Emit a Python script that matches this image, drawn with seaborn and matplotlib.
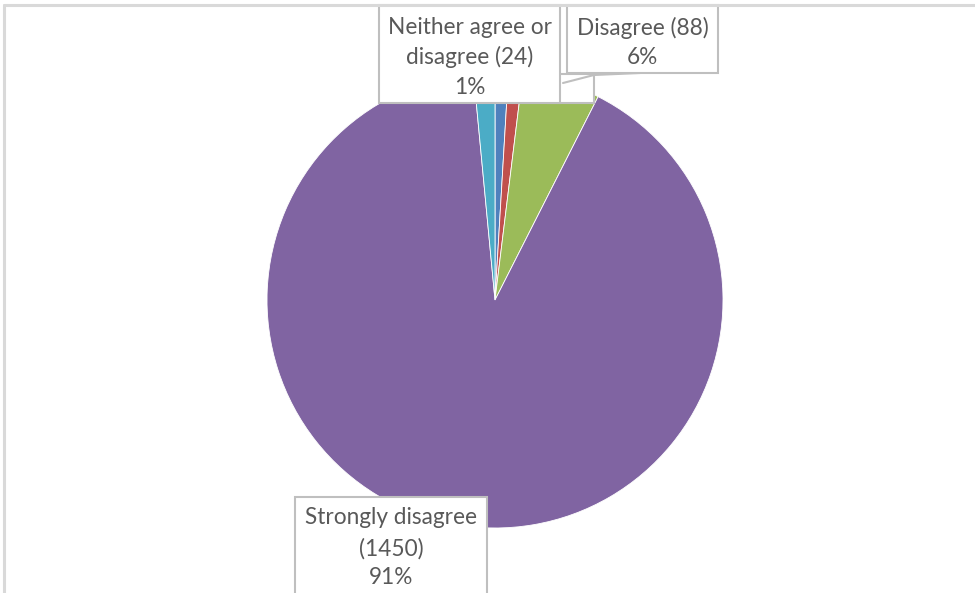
import matplotlib
matplotlib.use("Agg")
import matplotlib.pyplot as plt
from matplotlib.patches import Rectangle
import seaborn as sns

# dados da pizza (ordem do Excel, sentido horário a partir do topo)
categorias = ["Strongly agree", "Agree", "Disagree", "Strongly disagree", "Neither agree or disagree"]
valores = [15, 16, 88, 1450, 24]
cores = ["#4F81BD", "#C0504D", "#9BBB59", "#8064A2", "#4BACC6"]

# rótulos visíveis
rotulo_neither = ["Neither agree or", "disagree (24)", "1%"]
rotulo_disagree = ["Disagree (88)", "6%"]
rotulo_strongly = ["Strongly disagree", "(1450)", "91%"]

W, H = 975, 593

sns.set_theme(style="white")
plt.rcParams["font.family"] = ["Lato", "DejaVu Sans"]

fig = plt.figure(figsize=(W / 100, H / 100), dpi=100)
ax = fig.add_axes([0, 0, 1, 1])


def py(y):
    # coordenada em pixels (de cima) -> dados
    return H - y


ax.pie(valores, colors=cores, startangle=90, counterclock=False,
       center=(495, py(300)), radius=228, frame=True,
       wedgeprops=dict(edgecolor="white", linewidth=0.6))
ax.set_xlim(0, W)
ax.set_ylim(0, H)
ax.set_aspect("equal")
ax.axis("off")

borda = "#bfbfbf"
texto = "#595959"


def caixa(x0, y0, x1, y1, linhas, y_linhas, z=5):
    ax.add_patch(Rectangle((x0, py(y1)), x1 - x0, y1 - y0, facecolor="white",
                           edgecolor=borda, linewidth=1.5, zorder=z))
    xc = (x0 + x1) / 2
    for t, yl in zip(linhas, y_linhas):
        ax.text(xc, py(yl), t, ha="center", va="center", fontsize=16.3,
                color=texto, zorder=z + 1)


# caixa escondida atrás + linha de chamada
ax.add_patch(Rectangle((548, py(103)), 46, 29, facecolor="white",
                       edgecolor=borda, linewidth=1.5, zorder=3))
ax.plot([563, 594, 640], [py(83), py(75), py(73)], color=borda, lw=1.5, zorder=4)

caixa(379, 5, 560, 103, rotulo_neither, [28, 57, 87])
caixa(567, 5, 718, 73, rotulo_disagree, [28, 57])
caixa(295, 497, 487, 600, rotulo_strongly, [518, 549, 578])

# moldura do gráfico
ax.plot([4, 4], [py(593), py(5)], color="#d9d9d9", lw=2.2, zorder=10)
ax.plot([4, W], [py(5), py(5)], color="#d9d9d9", lw=2.2, zorder=10)

fig.savefig("out.png", dpi=100)
